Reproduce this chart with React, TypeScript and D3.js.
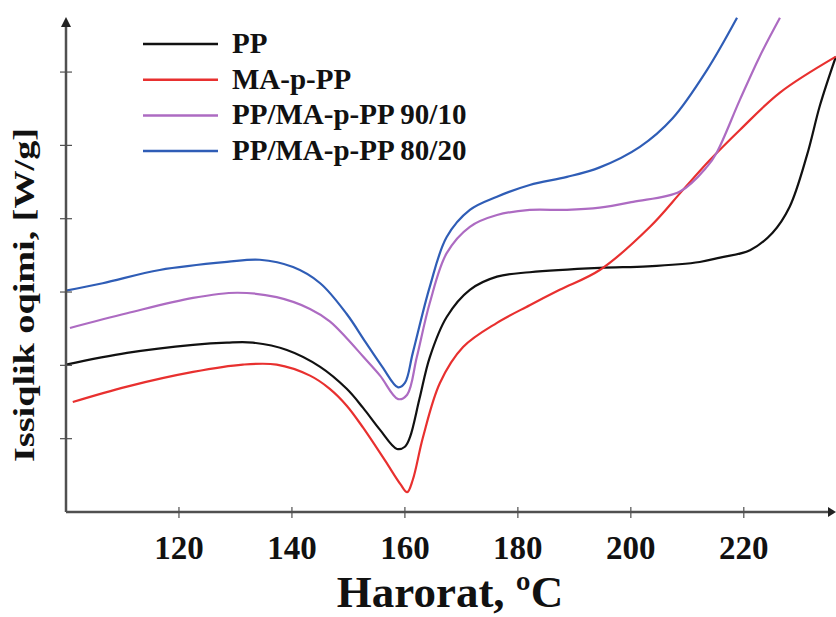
import React from "react";
import * as d3 from "d3";

const seriesNames = ["PP", "MA-p-PP", "PP/MA-p-PP 90/10", "PP/MA-p-PP 80/20"];
const seriesColors = ["#111111", "#e8302f", "#ad6bc2", "#2f5db6"];

const xTicks = [120, 140, 160, 180, 200, 220];
const yTicks = [1, 2, 3, 4, 5, 6];

// PP
const ppT = [100, 110.8, 122.5, 128.5, 133.1, 139.1, 145, 149.7, 152.6, 155.6, 158.6, 160, 160.9, 162.6, 164.4, 167.4, 171.5, 176.3, 182.1, 194.5, 203, 212.2, 215.8, 221.1, 225.1, 228.1, 231.2, 233.5, 236.3];
const ppY = [2.01, 2.17, 2.28, 2.31, 2.31, 2.21, 1.98, 1.68, 1.42, 1.12, 0.86, 0.89, 1.02, 1.55, 2.11, 2.66, 3.03, 3.21, 3.27, 3.33, 3.35, 3.41, 3.47, 3.57, 3.81, 4.16, 4.87, 5.55, 6.21];
// MA-p-PP
const maT = [101.2, 110.8, 122.5, 131.3, 137.3, 143.2, 146.7, 149.7, 152.6, 156.5, 159.2, 160.4, 161.4, 163.2, 166.2, 170.3, 176.3, 182.1, 187.4, 194.5, 203.4, 209.2, 214, 219.3, 226.4, 236.3];
const maY = [1.5, 1.71, 1.91, 2.01, 2.01, 1.86, 1.68, 1.45, 1.15, 0.7, 0.38, 0.27, 0.44, 1.02, 1.76, 2.25, 2.58, 2.82, 3.03, 3.3, 3.89, 4.39, 4.8, 5.21, 5.72, 6.21];
// PP/MA-p-PP 90/10
const p90T = [100.7, 110.8, 122.5, 130.3, 137.3, 143.2, 146.7, 149.7, 152.6, 155.6, 158.8, 160.4, 162.1, 164.4, 167.4, 171.5, 176.3, 182.1, 188.7, 194.5, 200.4, 208.7, 213.5, 215.2, 219.3, 222.8, 226.4];
const p90Y = [2.51, 2.71, 2.92, 2.99, 2.93, 2.77, 2.6, 2.37, 2.12, 1.86, 1.54, 1.6, 2.11, 2.85, 3.53, 3.89, 4.05, 4.12, 4.12, 4.15, 4.23, 4.37, 4.71, 4.9, 5.62, 6.21, 6.74];
// PP/MA-p-PP 80/20
const p80T = [100, 106.5, 116.6, 128.5, 134.3, 140.2, 145, 149.7, 153, 156, 158.8, 160, 161.4, 164.4, 167.4, 171.5, 176.3, 182.1, 188.7, 194.5, 201.6, 207.4, 213.5, 218.8];
const p80Y = [3.02, 3.12, 3.3, 3.41, 3.44, 3.34, 3.12, 2.7, 2.32, 1.98, 1.7, 1.76, 2.17, 3.07, 3.75, 4.12, 4.3, 4.46, 4.57, 4.7, 4.98, 5.37, 6.03, 6.74];

const seriesT = [ppT, maT, p90T, p80T];
const seriesY = [ppY, maY, p90Y, p80Y];

const FONT = "'Liberation Serif', 'Times New Roman', serif";

export default function App() {
  const x = d3.scaleLinear().domain([100, 236.5]).range([66, 837]);
  const y = d3.scaleLinear().domain([0, 6.71]).range([512, 20]);
  const line = d3
    .line<[number, number]>()
    .x((d) => x(d[0]))
    .y((d) => y(d[1]))
    .curve(d3.curveCatmullRom.alpha(0.5));

  const axisColor = "#505050";
  const x0 = x(100);
  const y0 = y(0);

  return (
    <svg
      width={836}
      height={617}
      style={{ position: "absolute", left: 0, top: 0, background: "#fff" }}
    >
      <rect x={0} y={0} width={836} height={617} fill="#fff" />
      {/* curves */}
      <g>
        {seriesT.map((ts, i) => {
          const pts = ts.map((t, k) => [t, seriesY[i][k]] as [number, number]);
          return (
            <path
              key={i}
              d={line(pts) || ""}
              fill="none"
              stroke={seriesColors[i]}
              strokeWidth={2.2}
              strokeLinejoin="round"
            />
          );
        })}
      </g>
      {/* axes */}
      <line x1={x0} y1={y0} x2={x0} y2={26} stroke={axisColor} strokeWidth={2.5} />
      <path d={`M${x0 - 5},${27} L${x0},${17} L${x0 + 5},${27} Z`} fill="#222" />
      <line x1={x0} y1={y0} x2={830} y2={y0} stroke={axisColor} strokeWidth={2.5} />
      <path d={`M${828},${y0 - 5} L${836},${y0} L${828},${y0 + 5} Z`} fill="#222" />
      {yTicks.map((t) => (
        <line key={t} x1={x0 - 6} x2={x0 + 6} y1={y(t)} y2={y(t)} stroke={axisColor} strokeWidth={1.2} />
      ))}
      {xTicks.map((t) => (
        <g key={t}>
          <line x1={x(t)} x2={x(t)} y1={y0 - 5} y2={y0 + 6} stroke={axisColor} strokeWidth={1.2} />
          <text
            x={x(t)}
            y={559}
            textAnchor="middle"
            fontFamily={FONT}
            fontWeight="bold"
            fontSize={33}
            fill="#111"
          >
            {t}
          </text>
        </g>
      ))}
      {/* axis labels */}
      <text
        x={450}
        y={607}
        textAnchor="middle"
        fontFamily={FONT}
        fontWeight="bold"
        fontSize={45}
        fill="#111"
      >
        Harorat, ºC
      </text>
      <g transform="translate(34,295) rotate(-90)">
        <text
          x={0}
          y={0}
          textAnchor="middle"
          fontFamily={FONT}
          fontWeight="bold"
          fontSize={30}
          fill="#111"
          textLength={334}
          lengthAdjust="spacingAndGlyphs"
        >
          Issiqlik oqimi, [W/g]
        </text>
      </g>
      {/* legend */}
      {seriesNames.map((n, i) => {
        const by = 53 + i * 35.7;
        return (
          <g key={n}>
            <line x1={143} x2={218} y1={by - 9} y2={by - 9} stroke={seriesColors[i]} strokeWidth={2.5} />
            <text x={232} y={by} fontFamily={FONT} fontWeight="bold" fontSize={29} fill="#111">
              {n}
            </text>
          </g>
        );
      })}
    </svg>
  );
}
